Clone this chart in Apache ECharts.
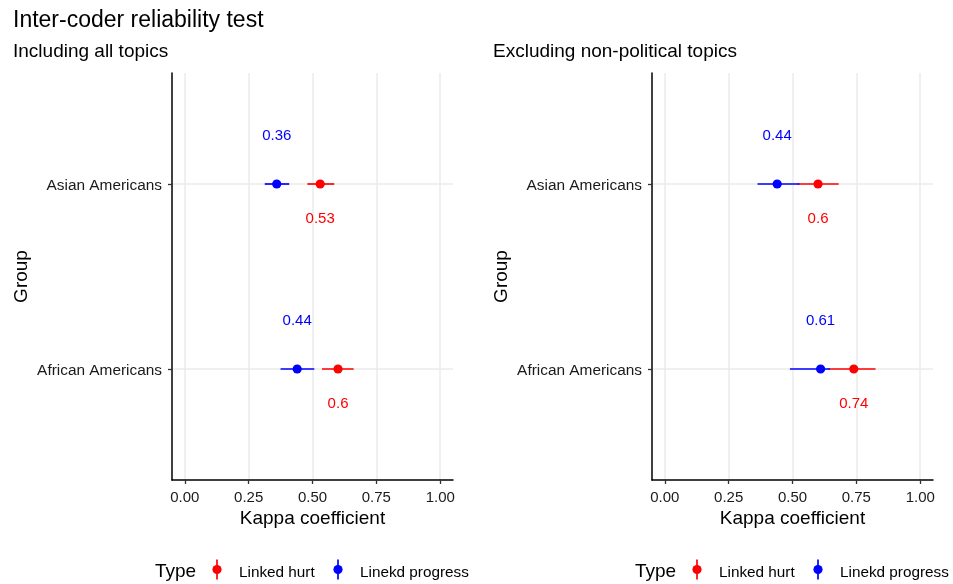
<!DOCTYPE html>
<html>
<head>
<meta charset="utf-8">
<title>Inter-coder reliability test</title>
<script src="https://cdn.jsdelivr.net/npm/echarts@6/dist/echarts.min.js"></script>
<style>
  html, body { margin: 0; padding: 0; background: #ffffff; }
  #chart { width: 953px; height: 584px; }
</style>
</head>
<body>
<div id="chart"></div>
<script>
// Groups on the vertical axis (bottom to top)
const groups = ['African Americans', 'Asian Americans'];
const seriesNames = ['Linked hurt', 'Linekd progress'];
const panelTitles = ['Including all topics', 'Excluding non-political topics'];

// Kappa ticks on the horizontal axis
const kappaTicks = [0, 0.25, 0.5, 0.75, 1];
const kappaTickLabels = ['0.00', '0.25', '0.50', '0.75', '1.00'];

// Panel 1: all topics (values per group: African Americans, Asian Americans)
const allHurtEst = [0.60, 0.53];
const allHurtLo = [0.537, 0.48];
const allHurtHi = [0.661, 0.585];
const allProgEst = [0.44, 0.36];
const allProgLo = [0.375, 0.313];
const allProgHi = [0.507, 0.409];

// Panel 2: political topics only
const polHurtEst = [0.74, 0.60];
const polHurtLo = [0.64, 0.52];
const polHurtHi = [0.825, 0.681];
const polProgEst = [0.61, 0.44];
const polProgLo = [0.49, 0.363];
const polProgHi = [0.646, 0.527];

const RED = '#FF0000';
const BLUE = '#0000FF';
const FONT = "'Liberation Sans', Arial, Helvetica, sans-serif";
const TEXT_DY = 2; // small baseline correction for middle-aligned text

const chart = echarts.init(document.getElementById('chart'), null, { renderer: 'canvas' });

function rows(lo, hi, est) {
  return groups.map((g, i) => [lo[i], hi[i], est[i], i + 1]);
}

// Point-range mark with its value label, nudged in axis units
function pointRange(color, nudge) {
  return function (params, api) {
    const y = api.value(3);
    const a = api.coord([api.value(0), y]);
    const b = api.coord([api.value(1), y]);
    const p = api.coord([api.value(2), y]);
    const t = api.coord([api.value(2), y + nudge]);
    return {
      type: 'group',
      children: [
        { type: 'line', shape: { x1: a[0], y1: a[1], x2: b[0], y2: b[1] },
          style: { stroke: color, lineWidth: 1.7 } },
        { type: 'circle', shape: { cx: p[0], cy: p[1], r: 4.6 },
          style: { fill: color } },
        { type: 'text', x: t[0], y: t[1] + TEXT_DY,
          style: { text: String(api.value(2)), fill: color, font: '15px ' + FONT,
                   align: 'center', verticalAlign: 'middle' } }
      ]
    };
  };
}

function makeSeries(name, color, nudge, idx, data) {
  return {
    type: 'custom', name: name,
    xAxisIndex: idx, yAxisIndex: idx,
    itemStyle: { color: color },
    renderItem: pointRange(color, nudge),
    encode: { x: [0, 1, 2], y: 3 },
    data: data,
    z: color === BLUE ? 3 : 2
  };
}

const grids = [
  { left: 172, top: 73, width: 281, height: 407 },
  { left: 652, top: 73, width: 281, height: 407 }
];

const xAxes = grids.map((g, i) => ({
  type: 'value', gridIndex: i, min: -0.05, max: 1.05,
  axisLine: { show: true, onZero: false, lineStyle: { color: '#000', width: 1.5 } },
  axisTick: { show: true, length: 4, customValues: kappaTicks, lineStyle: { color: '#333', width: 1.3 } },
  axisLabel: { customValues: kappaTicks, margin: 10, color: '#1a1a1a', fontSize: 15, fontFamily: FONT,
               formatter: v => kappaTickLabels[kappaTicks.indexOf(v)] },
  splitLine: { show: true, lineStyle: { color: '#EBEBEB', width: 1.5 } }
}));

const yTicks = groups.map((g, i) => i + 1);
const yAxes = grids.map((g, i) => ({
  type: 'value', gridIndex: i, min: 0.4, max: 2.6,
  axisLine: { show: true, onZero: false, lineStyle: { color: '#000', width: 1.5 } },
  axisTick: { show: true, length: 4, customValues: yTicks, lineStyle: { color: '#333', width: 1.3 } },
  axisLabel: { customValues: yTicks, margin: 10, color: '#1a1a1a', fontSize: 15.4, fontFamily: FONT,
               verticalAlign: 'top', lineHeight: 4,
               formatter: v => groups[v - 1] },
  splitLine: { show: true, lineStyle: { color: '#EBEBEB', width: 1.5 } }
}));

function text(str, x, y, size, extra) {
  return Object.assign({
    type: 'text', x: x, y: y + TEXT_DY,
    style: { text: str, fill: '#000', font: size + 'px ' + FONT, align: 'left', verticalAlign: 'middle' }
  }, extra || {});
}

// Legend key: point-range glyph followed by its label
function legendKey(cx, cy, color, label) {
  return [
    { type: 'line', shape: { x1: cx, y1: cy - 10, x2: cx, y2: cy + 10 },
      style: { stroke: color, lineWidth: 1.7 } },
    { type: 'circle', shape: { cx: cx, cy: cy, r: 4.6 }, style: { fill: color } },
    text(label, cx + 22, cy + 1, 15.3)
  ];
}

const graphics = [
  text('Inter-coder reliability test', 13, 18.5, 23),
  text(panelTitles[0], 13, 50, 19),
  text(panelTitles[1], 493, 50, 19),
  text('Kappa coefficient', 312.5, 517, 19),
  text('Kappa coefficient', 792.5, 517, 19),
  { type: 'text', x: 20 + TEXT_DY, y: 276.5, rotation: Math.PI / 2,
    style: { text: 'Group', fill: '#000', font: '19px ' + FONT, align: 'center', verticalAlign: 'middle' } },
  { type: 'text', x: 500 + TEXT_DY, y: 276.5, rotation: Math.PI / 2,
    style: { text: 'Group', fill: '#000', font: '19px ' + FONT, align: 'center', verticalAlign: 'middle' } },
  text('Type', 155, 569.5, 19),
  text('Type', 635, 569.5, 19)
]
  .concat(legendKey(217, 569.5, RED, seriesNames[0]))
  .concat(legendKey(338, 569.5, BLUE, seriesNames[1]))
  .concat(legendKey(697, 569.5, RED, seriesNames[0]))
  .concat(legendKey(818, 569.5, BLUE, seriesNames[1]));
// centre the axis titles
graphics[3].style.align = 'center';
graphics[4].style.align = 'center';

chart.setOption({
  backgroundColor: '#ffffff',
  animation: false,
  grid: grids,
  xAxis: xAxes,
  yAxis: yAxes,
  graphic: graphics,
  series: [
    makeSeries(seriesNames[0], RED, -0.18, 0, rows(allHurtLo, allHurtHi, allHurtEst)),
    makeSeries(seriesNames[1], BLUE, 0.27, 0, rows(allProgLo, allProgHi, allProgEst)),
    makeSeries(seriesNames[0], RED, -0.18, 1, rows(polHurtLo, polHurtHi, polHurtEst)),
    makeSeries(seriesNames[1], BLUE, 0.27, 1, rows(polProgLo, polProgHi, polProgEst))
  ]
});
</script>
</body>
</html>
